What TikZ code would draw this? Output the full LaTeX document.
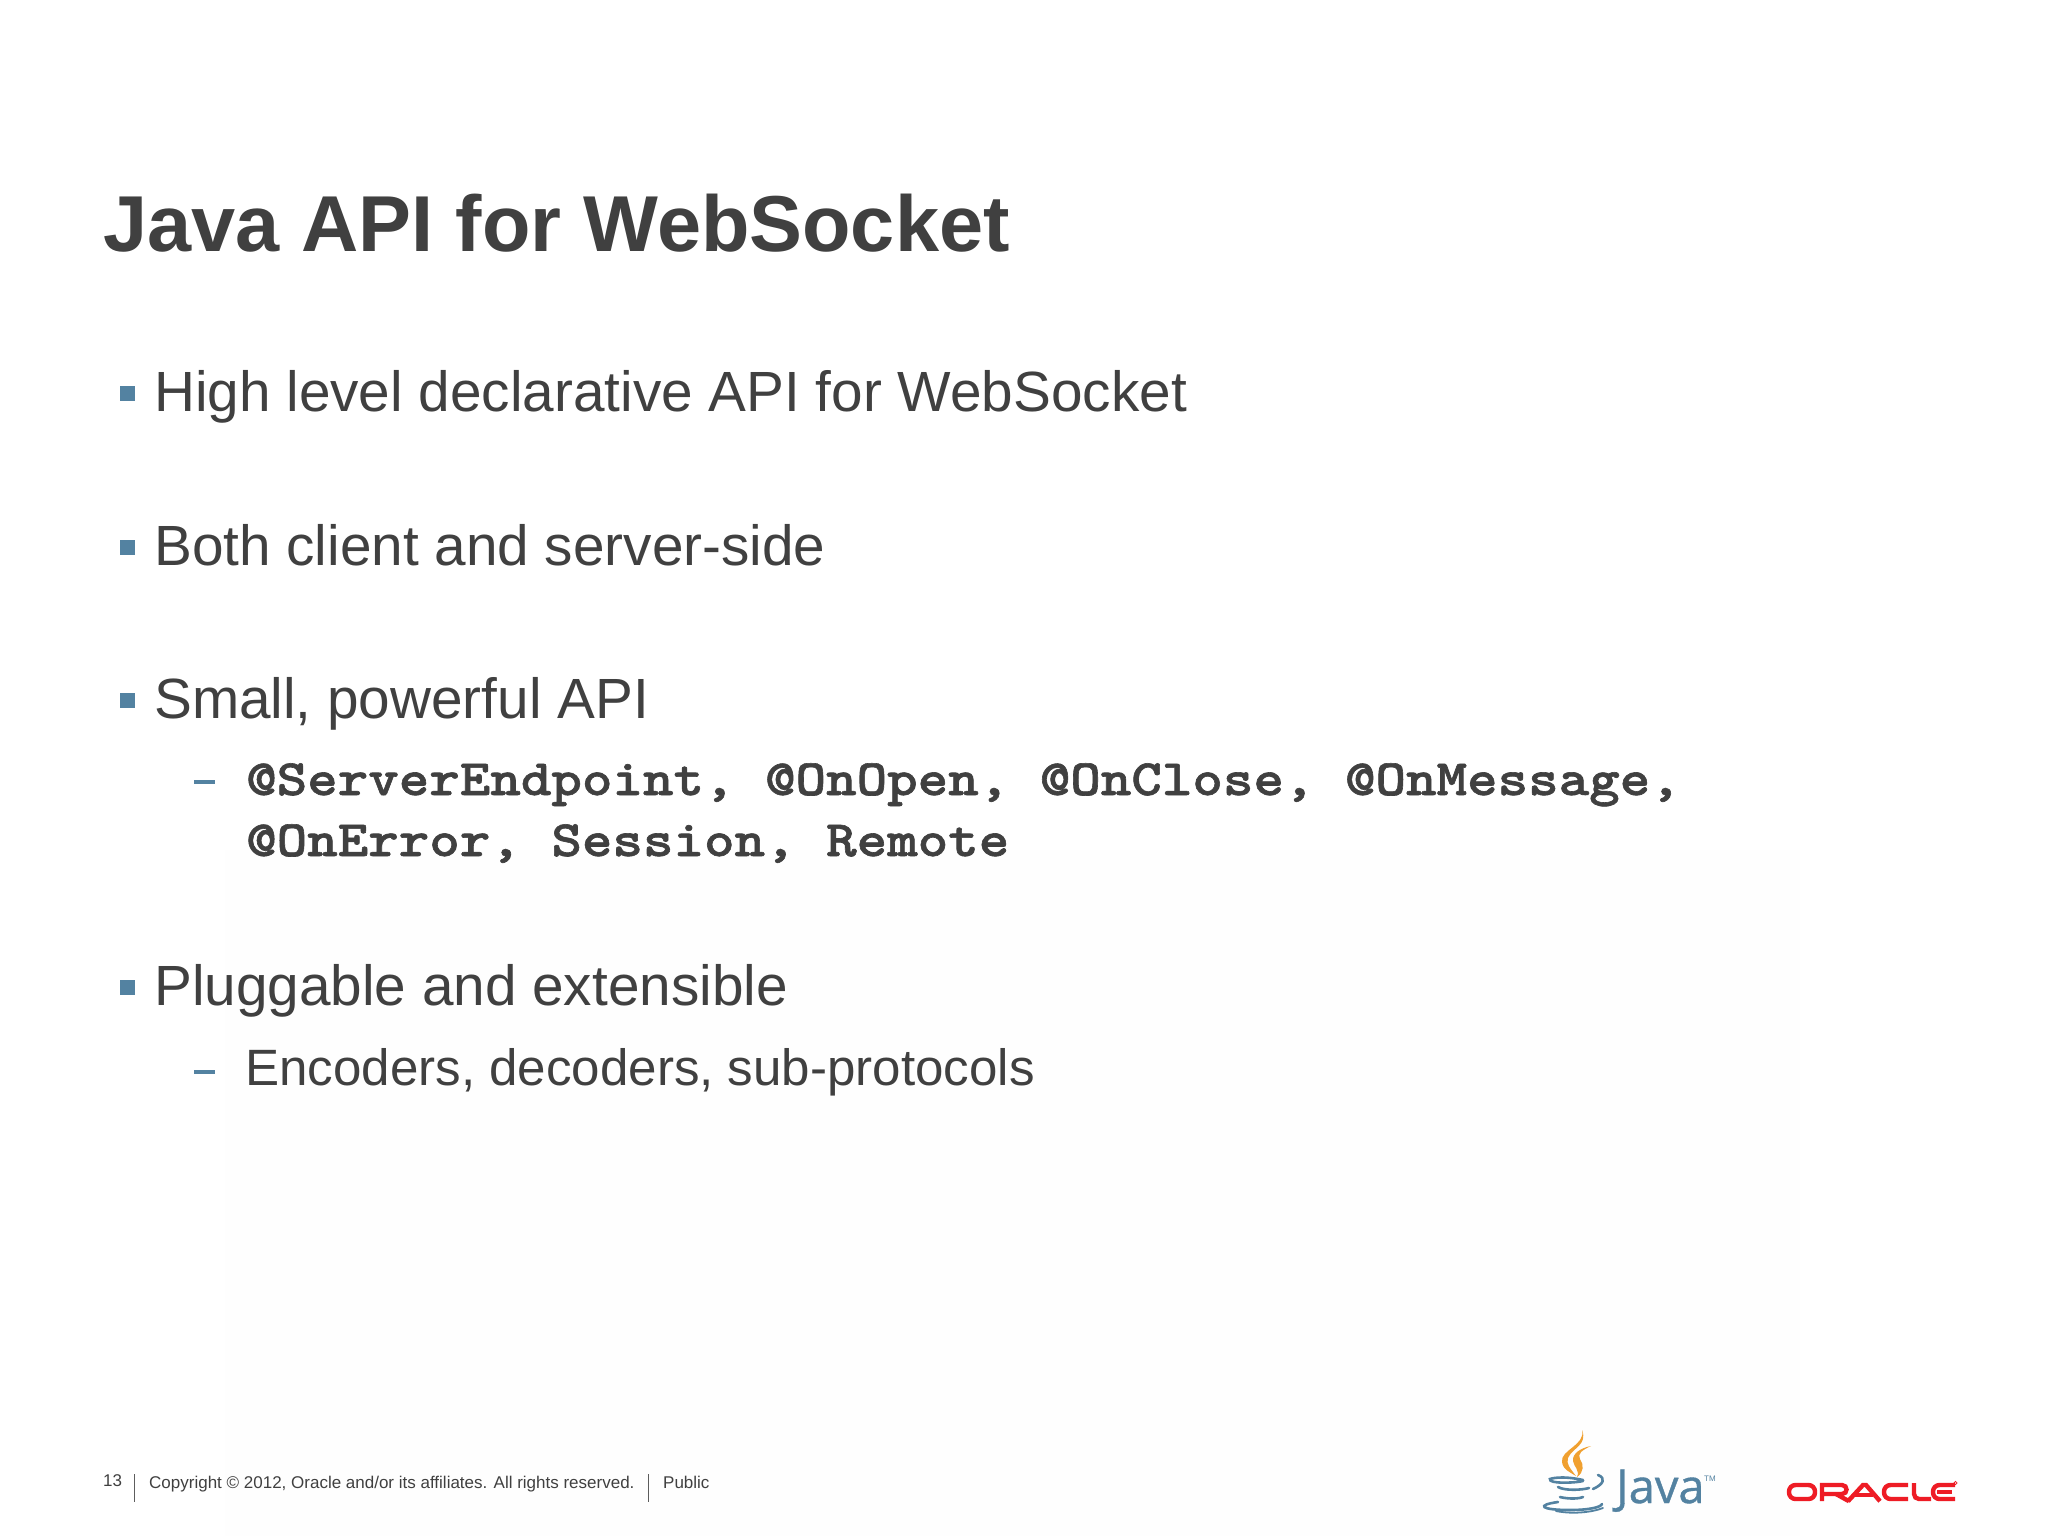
\documentclass[tikz,border=0pt]{standalone}
\usepackage{fontspec}
\setmainfont{Liberation Sans}
\newfontfamily\codefont{Latin Modern Mono Light}[FakeStretch=1.14,FakeBold=1.2]
\newfontfamily\javafont{Open Sans}[FakeBold=0.8]
\definecolor{ink}{HTML}{404040}
\definecolor{accent}{HTML}{5382A1}
\definecolor{flame}{HTML}{F0A030}
\definecolor{oracle}{HTML}{EE1C25}
\definecolor{faint}{HTML}{FEFEFE}
\newcommand{\px}[1]{\fontsize{#1}{#1}\selectfont}
\tikzset{
  x=1pt,y=-1pt,
  title/.style={anchor=base west,inner sep=0pt,text=ink,font=\px{79.3}\bfseries},
  lvlone/.style={anchor=base west,inner sep=0pt,text=ink,font=\px{56.7}},
  lvltwo/.style={anchor=base west,inner sep=0pt,text=ink,font=\px{51.1}},
  code/.style={anchor=base west,inner sep=0pt,text=ink,font=\codefont\px{51}\bfseries},
  foot/.style={anchor=base west,inner sep=0pt,text=ink,font=\px{17}},
  sqbullet/.style={fill=accent,minimum size=15pt,inner sep=0pt,anchor=center},
  dashmark/.style={fill=accent,minimum width=21pt,minimum height=3.5pt,inner sep=0pt,anchor=center},
  sep/.style={draw=ink!85,line width=1pt},
  cupline/.style={draw=accent,line width=2.6pt,line cap=round},
  orastroke/.style={draw=oracle,line width=4.4pt}
}
\begin{document}
\begin{tikzpicture}
\useasboundingbox (0,0) rectangle (2048,1536);
\fill[white] (0,0) rectangle (2048,1536);
\fill[faint] (225,850) rectangle (1800,1536);

\node[title] (t) at (103,251.5) {Java API for WebSocket};

\node[sqbullet] (b1) at (127,393) {};
\node[lvlone] (l1) at (154,411) {High level declarative API for WebSocket};
\node[sqbullet] (b2) at (127,547) {};
\node[lvlone] (l2) at (154,565) {Both client and server-side};
\node[sqbullet] (b3) at (127,700) {};
\node[lvlone] (l3) at (154,718) {Small, powerful API};
\node[dashmark] (d1) at (204,782) {};
\node[code] (c1) at (246,795) {@ServerEndpoint, @OnOpen, @OnClose, @OnMessage,};
\node[code] (c2) at (246,856) {@OnError, Session, Remote};
\node[sqbullet] (b4) at (127,987) {};
\node[lvlone] (l4) at (154,1005) {Pluggable and extensible};
\node[dashmark] (d2) at (204,1072) {};
\node[lvltwo] (s1) at (245,1085.5) {Encoders, decoders, sub-protocols};

\node[foot] (n) at (103,1486) {13};
\draw[sep] (134.5,1474) -- (134.5,1502);
\node[foot] (cp) at (149,1488) {Copyright © 2012, Oracle and/or its affiliates. All rights reserved.};
\draw[sep] (648,1474) -- (648,1502);
\node[foot] (pb) at (663,1488) {Public};

% Java logo
\fill[flame] (1582,1430) .. controls (1586,1445) and (1560,1450) .. (1562,1462) .. controls (1563,1470) and (1570,1472) .. (1576,1476) .. controls (1570,1468) and (1566,1464) .. (1568,1458) .. controls (1572,1448) and (1588,1445) .. (1582,1430) -- cycle;
\fill[flame] (1591,1446) .. controls (1580,1448) and (1572,1454) .. (1573,1461) .. controls (1574,1467) and (1580,1470) .. (1577,1477) .. controls (1584,1472) and (1584,1465) .. (1580,1459) .. controls (1577,1454) and (1582,1450) .. (1591,1446) -- cycle;
\draw[cupline] (1583,1480) .. controls (1560,1475) and (1550,1479) .. (1550,1479) .. controls (1548,1484) and (1575,1483) .. (1583,1481);
\draw[cupline] (1598,1475) .. controls (1606,1478) and (1604,1484) .. (1593,1489);
\draw[cupline] (1558,1487) .. controls (1565,1491) and (1582,1490) .. (1589,1488);
\draw[cupline] (1560,1497) .. controls (1568,1499) and (1578,1499) .. (1583,1497);
\draw[cupline] (1558,1502) .. controls (1536,1505) and (1540,1510) .. (1570,1510) .. controls (1590,1510) and (1601,1507) .. (1602,1504);
\draw[cupline,line width=1.8pt] (1556,1511) .. controls (1570,1514) and (1590,1513) .. (1603,1508);
\node[anchor=base west,inner sep=0pt,text=accent,font=\javafont\px{47}] (j) at (1616,1503) {Java};
\node[anchor=base west,inner sep=0pt,text=accent,font=\px{8}] (tm) at (1704,1481) {TM};

% Oracle logo
\begin{scope}[orastroke,line cap=butt]
\draw[rounded corners=6.5pt] (1789,1485) rectangle (1815,1499);
\draw (1822,1501.2) -- (1822,1485) -- (1842,1485) .. controls (1848,1485) and (1848,1494) .. (1842,1494) -- (1822,1494);
\draw (1836,1494) -- (1849,1501.2);
\draw (1848,1501.2) -- (1863,1485) -- (1866,1485) -- (1880,1501.2);
\draw (1855,1495) -- (1873,1495);
\draw[rounded corners=6.5pt] (1908,1485) -- (1884,1485) -- (1884,1499) -- (1908,1499);
\draw[rounded corners=5pt] (1914,1483) -- (1914,1499) -- (1931,1499);
\draw[rounded corners=6.5pt] (1955,1485) -- (1933,1485) -- (1933,1499) -- (1955,1499);
\draw (1937,1492) -- (1952,1492);
\end{scope}
\draw[oracle,line width=0.8pt] (1955.5,1483) circle (1.6pt);
\end{tikzpicture}
\end{document}
